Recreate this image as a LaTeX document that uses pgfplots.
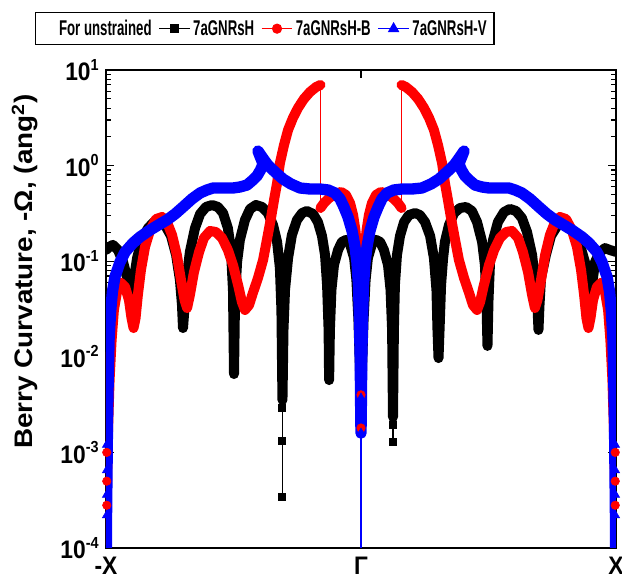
\documentclass[border=0pt]{standalone}
\usepackage{fontspec}
\setmainfont{Liberation Sans}
\newfontfamily\legfont{Liberation Sans Bold}[FakeStretch=0.62]
\newfontfamily\tickfont{Liberation Sans Bold}[FakeStretch=0.9]
\newfontfamily\labfont{Liberation Sans Bold}[FakeStretch=1.1]
\usepackage{pgfplots}
\pgfplotsset{compat=1.18}
\newcommand{\ex}[1]{\raisebox{8pt}{\fontsize{12}{13}\selectfont #1}}
\begin{document}
\begin{tikzpicture}
\useasboundingbox (-79.5pt,-24.75pt) rectangle (387pt,411pt);
\begin{axis}[
  at={(0,0)}, anchor=south west,
  width=382.5pt, height=358.5pt, scale only axis,
  xmin=-1, xmax=1, ymode=log, ymin=1e-4, ymax=10,
  xtick={-1,0,1}, xticklabels={-X,Γ,X},
  ytick={1e-4,1e-3,1e-2,1e-1,1,10},
  yticklabels={10\ex{-4},10\ex{-3},10\ex{-2},10\ex{-1},10\ex{0},10\ex{1}},
  tick label style={font=\tickfont\fontsize{19}{20}\selectfont},
  yticklabel style={xshift=-2pt},
  xticklabel style={yshift=-3pt},
  major tick length=6pt, minor tick length=3.5pt,
  tick style={black, line width=0.8pt},
  axis line style={line width=1.2pt},
  ylabel={Berry Curvature, -Ω, (ang\textsuperscript{2})},
  every axis y label/.style={at={(axis description cs:-0.159,0.578)},rotate=90,anchor=center,font=\labfont\fontsize{19}{20}\selectfont},
  legend columns=4,
  legend image code/.code={\draw[mark repeat=2,mark phase=2] plot coordinates {(0pt,0pt)(11.5pt,0pt)(23pt,0pt)};},
  legend style={at={(axis description cs:-0.139,1.1213)}, anchor=north west, draw=black, line width=0.9pt,
    font=\legfont\fontsize{16}{17}\selectfont, inner sep=3.5pt,
    /tikz/every even column/.append style={column sep=3pt}},
  legend cell align=left,
]
% black 7aGNRsH
\addplot[forget plot, black, line width=7.5pt, line join=round, line cap=round] coordinates {
(-1.000,0.131)(-0.988,0.141)(-0.973,0.148)(-0.953,0.131)(-0.933,0.098)(-0.918,0.0684)(-0.906,0.0443)(-0.902,0.0348)(-0.894,0.0564)(-0.878,0.108)(-0.859,0.167)(-0.835,0.222)(-0.812,0.257)(-0.792,0.264)(-0.769,0.239)(-0.745,0.184)(-0.725,0.116)(-0.710,0.0636)(-0.702,0.0348)(-0.698,0.0200)(-0.690,0.0393)(-0.682,0.0718)(-0.671,0.125)(-0.651,0.222)(-0.631,0.312)(-0.608,0.369)(-0.584,0.387)(-0.561,0.369)(-0.541,0.319)(-0.522,0.222)(-0.510,0.131)(-0.502,0.0500)(-0.498,0.0066)(-0.494,0.0393)(-0.486,0.098)(-0.475,0.167)(-0.455,0.270)(-0.435,0.352)(-0.412,0.387)(-0.388,0.369)(-0.365,0.319)(-0.345,0.239)(-0.329,0.159)(-0.318,0.0849)(-0.312,0.0309)(-0.308,0.00353)(-0.304,0.0191)(-0.298,0.0500)(-0.286,0.108)(-0.271,0.188)(-0.251,0.270)(-0.231,0.319)(-0.212,0.335)(-0.188,0.312)(-0.169,0.257)(-0.153,0.184)(-0.141,0.116)(-0.133,0.0564)(-0.127,0.0191)(-0.125,0.00571)(-0.122,0.0191)(-0.116,0.0500)(-0.106,0.0912)(-0.090,0.131)(-0.075,0.159)(-0.059,0.167)(-0.043,0.151)(-0.027,0.108)(-0.018,0.0636)(-0.010,0.0243)(-0.004,0.00728)(0,0.00218)
(0.004,0.00728)(0.010,0.0243)(0.018,0.0636)(0.027,0.108)(0.043,0.151)(0.059,0.167)(0.075,0.159)(0.090,0.131)(0.106,0.0912)(0.116,0.0500)(0.122,0.0191)(0.1255,0.00234)(0.129,0.0191)(0.133,0.0564)(0.141,0.116)(0.153,0.184)(0.169,0.257)(0.188,0.304)(0.212,0.319)(0.231,0.304)(0.251,0.257)(0.271,0.184)(0.286,0.108)(0.296,0.0500)(0.300,0.0191)(0.304,0.0097)(0.308,0.0191)(0.314,0.0564)(0.322,0.108)(0.329,0.159)(0.345,0.239)(0.365,0.319)(0.388,0.360)(0.412,0.369)(0.435,0.335)(0.455,0.257)(0.475,0.159)(0.486,0.0912)(0.492,0.0393)(0.496,0.0130)(0.500,0.0393)(0.506,0.098)(0.518,0.167)(0.537,0.257)(0.561,0.327)(0.584,0.352)(0.608,0.335)(0.631,0.283)(0.651,0.202)(0.671,0.116)(0.682,0.0636)(0.692,0.0348)(0.696,0.0191)(0.700,0.0348)(0.706,0.0667)(0.725,0.116)(0.745,0.184)(0.769,0.233)(0.792,0.251)(0.812,0.239)(0.835,0.202)(0.859,0.148)(0.878,0.098)(0.894,0.0500)(0.902,0.0309)(0.906,0.0564)(0.918,0.098)(0.937,0.125)(0.957,0.137)(0.976,0.131)(1.000,0.125)
};
\addplot[forget plot, black, line width=0.8pt, mark=square*, mark size=2.6pt, mark indices={2,3,4}] coordinates {(-0.308,0.00353)(-0.308,0.0029)(-0.308,0.00133)(-0.308,3.41e-4)};
\addplot[forget plot, black, line width=0.8pt, mark=square*, mark size=2.6pt, mark indices={2,3}] coordinates {(0.1255,0.00234)(0.1255,0.00194)(0.1255,0.00129)};
% red 7aGNRsH-B
\addplot[forget plot, red, line width=7.5pt, line join=round, line cap=round] coordinates {
(-0.999,1.21e-4)(-0.996,5.14e-4)(-0.992,0.00171)(-0.986,0.00571)(-0.978,0.0150)(-0.969,0.0309)(-0.957,0.0476)(-0.941,0.0591)(-0.925,0.0537)(-0.910,0.0393)(-0.900,0.0255)(-0.892,0.0200)(-0.884,0.0255)(-0.875,0.0443)(-0.863,0.0809)(-0.847,0.141)(-0.827,0.212)(-0.804,0.276)(-0.780,0.290)(-0.761,0.257)(-0.741,0.188)(-0.722,0.116)(-0.706,0.0636)(-0.692,0.0393)(-0.682,0.0324)(-0.671,0.0443)(-0.655,0.0771)(-0.635,0.125)(-0.616,0.175)(-0.592,0.207)(-0.569,0.202)(-0.545,0.175)(-0.522,0.131)(-0.502,0.0912)(-0.482,0.0564)(-0.467,0.0374)(-0.455,0.0309)(-0.439,0.0348)(-0.424,0.0465)(-0.404,0.0667)(-0.384,0.103)(-0.369,0.167)(-0.353,0.283)(-0.341,0.437)(-0.329,0.658)(-0.318,1.06)(-0.302,1.64)(-0.286,2.36)(-0.267,3.15)(-0.247,4.01)(-0.224,4.98)(-0.200,5.89)(-0.176,6.64)(-0.159,6.97)
};
\addplot[forget plot, red, line width=0.8pt] coordinates {(-0.159,6.97)(-0.159,0.360)};
\addplot[forget plot, red, line width=7.5pt, line join=round, line cap=round] coordinates {
(-0.159,0.360)(-0.145,0.406)(-0.125,0.458)(-0.102,0.505)(-0.078,0.530)(-0.059,0.493)(-0.043,0.406)(-0.031,0.304)(-0.022,0.212)(-0.014,0.131)(-0.008,0.0636)(-0.004,0.0243)(-0.002,0.00728)(0,0.0018)
(0.002,0.00728)(0.004,0.0243)(0.008,0.0636)(0.014,0.131)(0.022,0.212)(0.031,0.304)(0.043,0.406)(0.059,0.493)(0.078,0.530)(0.102,0.505)(0.125,0.458)(0.145,0.406)(0.159,0.360)
};
\addplot[forget plot, red, line width=0.8pt] coordinates {(0.159,0.360)(0.159,6.97)};
\addplot[forget plot, red, line width=7.5pt, line join=round, line cap=round] coordinates {
(0.159,6.97)(0.176,6.64)(0.200,5.89)(0.224,4.98)(0.247,4.01)(0.267,3.15)(0.286,2.36)(0.302,1.64)(0.318,1.06)(0.329,0.658)(0.341,0.437)(0.353,0.283)(0.369,0.167)(0.384,0.103)(0.404,0.0667)(0.424,0.0465)(0.439,0.0348)(0.455,0.0309)(0.467,0.0374)(0.482,0.0564)(0.502,0.0912)(0.522,0.131)(0.545,0.175)(0.569,0.202)(0.592,0.207)(0.616,0.175)(0.635,0.125)(0.655,0.0771)(0.671,0.0443)(0.682,0.0324)(0.692,0.0393)(0.706,0.0636)(0.722,0.116)(0.741,0.188)(0.761,0.257)(0.780,0.290)(0.804,0.276)(0.827,0.212)(0.847,0.141)(0.863,0.0809)(0.875,0.0443)(0.884,0.0255)(0.892,0.0200)(0.900,0.0255)(0.910,0.0393)(0.925,0.0537)(0.941,0.0591)(0.957,0.0476)(0.969,0.0309)(0.978,0.0150)(0.986,0.00571)(0.992,0.00171)(0.996,5.14e-4)(0.999,1.21e-4)
};
\addplot[forget plot, red, only marks, mark=*, mark size=3.2pt] coordinates {(-0.997,0.001)(-0.997,5e-4)(-0.997,2.8e-4)(0,0.0040)(0,0.0018)(0.997,0.001)(0.997,5e-4)(0.997,2.8e-4)};
% blue 7aGNRsH-V
\addplot[forget plot, blue, line width=8.5pt, line join=round, line cap=round] coordinates {
(-1.000,2.86e-5)(-0.998,1.96e-4)(-0.996,6.55e-4)(-0.994,0.00218)(-0.991,0.00646)(-0.988,0.0150)(-0.982,0.0294)(-0.975,0.0476)(-0.965,0.0684)(-0.945,0.098)(-0.925,0.125)(-0.894,0.155)(-0.867,0.179)(-0.827,0.212)(-0.788,0.245)(-0.761,0.270)(-0.729,0.312)(-0.698,0.369)(-0.663,0.448)(-0.631,0.517)(-0.604,0.556)(-0.580,0.583)(-0.541,0.583)(-0.502,0.583)(-0.475,0.597)(-0.447,0.626)(-0.424,0.707)(-0.408,0.778)(-0.394,0.90)(-0.384,1.04)(-0.404,1.42)(-0.388,1.23)(-0.365,1.01)(-0.337,0.857)(-0.306,0.724)(-0.275,0.643)(-0.239,0.583)(-0.200,0.569)(-0.161,0.569)(-0.129,0.556)(-0.102,0.517)(-0.082,0.448)(-0.067,0.369)(-0.051,0.290)(-0.035,0.207)(-0.024,0.144)(-0.016,0.098)(-0.010,0.0564)(-0.006,0.0243)(-0.003,0.00927)(-0.0016,0.00353)(0,0.00159)
(0.0016,0.00353)(0.003,0.00927)(0.006,0.0243)(0.010,0.0564)(0.016,0.098)(0.024,0.144)(0.035,0.207)(0.051,0.290)(0.067,0.369)(0.082,0.448)(0.102,0.517)(0.129,0.556)(0.161,0.569)(0.200,0.569)(0.239,0.583)(0.275,0.643)(0.306,0.724)(0.337,0.857)(0.365,1.01)(0.388,1.23)(0.404,1.42)(0.384,1.04)(0.394,0.90)(0.408,0.778)(0.424,0.707)(0.447,0.626)(0.475,0.597)(0.502,0.583)(0.541,0.583)(0.580,0.583)(0.604,0.556)(0.631,0.517)(0.663,0.448)(0.698,0.369)(0.729,0.312)(0.761,0.270)(0.788,0.245)(0.827,0.212)(0.867,0.179)(0.894,0.155)(0.925,0.125)(0.945,0.098)(0.965,0.0684)(0.975,0.0476)(0.982,0.0294)(0.988,0.0150)(0.991,0.00646)(0.994,0.00218)(0.996,6.55e-4)(0.998,1.96e-4)(1.000,2.86e-5)
};
\addplot[forget plot, blue, line width=0.9pt] coordinates {(0,0.00159)(0,1e-5)};
\addplot[forget plot, blue, only marks, mark=triangle*, mark size=3.8pt] coordinates {(0,0.00507)(0,0.00371)(0,0.00278)(0,0.00159)(-0.997,0.0012)(-0.997,6.5e-4)(-0.997,3.6e-4)(-0.997,2.2e-4)(0.997,0.0012)(0.997,6.5e-4)(0.997,3.6e-4)(0.997,2.2e-4)};
% legend
\addlegendimage{empty legend}
\addlegendentry{\hspace{12pt}For unstrained}
\addlegendimage{black, line width=1.2pt, mark=square*, mark size=2.7pt}
\addlegendentry{7aGNRsH}
\addlegendimage{red, line width=1.2pt, mark=*, mark size=3.2pt}
\addlegendentry{7aGNRsH-B}
\addlegendimage{blue, line width=1.2pt, mark=triangle*, mark size=3.8pt}
\addlegendentry{7aGNRsH-V}
\end{axis}
\end{tikzpicture}
\end{document}
